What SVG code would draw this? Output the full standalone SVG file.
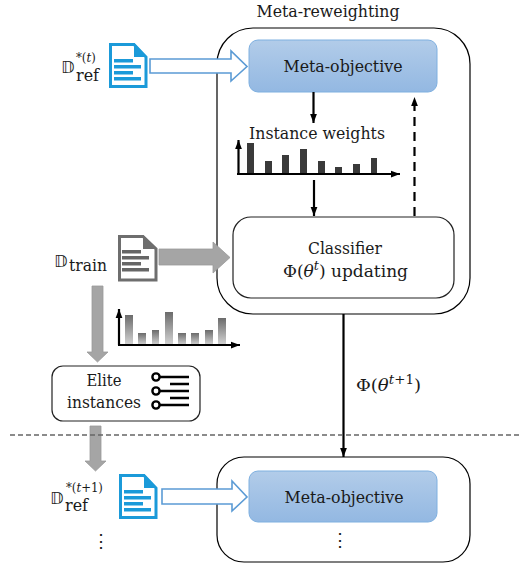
<svg xmlns="http://www.w3.org/2000/svg" xmlns:xlink="http://www.w3.org/1999/xlink" width="526" height="565" viewBox="0 0 526 565">
<style>
text{font-family:"DejaVu Serif Condensed","DejaVu Serif","Liberation Serif",serif;font-size:17.500px;fill:#1a1a1a}
.m{text-anchor:middle}
.ds{font-family:"DejaVu Sans",sans-serif;font-size:16.500px;fill:#222}
.sm{font-size:13px}
.i{font-style:italic}
.outer{fill:#fff;stroke:#000;stroke-width:1.2}
.box{fill:#fff;stroke:#222;stroke-width:1.2}
.meta{fill:url(#blue);stroke:#7fb0e0;stroke-width:1}
.blk{stroke:#000;stroke-width:2.2;fill:none}
.bar1{fill:#3a3a3a}
.bar2{fill:url(#grayg)}
.hollow{fill:#fff;stroke:#5b9bd5;stroke-width:1.6}
.solidg{fill:#a5a5a5;stroke:#999;stroke-width:.8}
</style>
<defs>
<linearGradient id="blue" x1="0" y1="0" x2="0" y2="1"><stop offset="0" stop-color="#b2cce9"/><stop offset="1" stop-color="#93b8e2"/></linearGradient>
<linearGradient id="grayg" x1="0" y1="0" x2="0" y2="1"><stop offset="0" stop-color="#6b6b6b"/><stop offset="1" stop-color="#d4d4d4"/></linearGradient>
<marker id="ah" markerWidth="9" markerHeight="8" refX="8" refY="3" orient="auto" markerUnits="userSpaceOnUse" viewBox="0 0 8 6"><path d="M0 0L8 3L0 6Z" fill="#000"/></marker>
<g id="docb">
<path d="M1.500 1.500H25L37 14V43.500H1.500Z" fill="#fff" stroke="#1b9ad9" stroke-width="3"/>
<path d="M25 0L38 14H25Z" fill="#1b9ad9"/>
<path d="M5 16h19v3.500h-19zM5 22h27v3.500h-27zM5 28h19v3.500h-19zM5 34h27v3.500h-27z" fill="#1b9ad9"/>
</g>
</defs>
<rect width="526" height="565" fill="#fff"/>

<g id="outer-top"><rect class="outer" x="217" y="28" width="253" height="286" rx="36"/></g>
<g id="outer-bottom"><rect class="outer" x="217" y="457" width="253" height="105" rx="27"/></g>

<g id="title"><text class="m" x="328" y="17" textLength="143" lengthAdjust="spacingAndGlyphs">Meta-reweighting</text></g>

<g id="meta-objective-top"><rect class="meta" x="249" y="40" width="188" height="52" rx="9"/><text class="m" x="343" y="72" textLength="119" lengthAdjust="spacingAndGlyphs">Meta-objective</text></g>
<g id="classifier"><rect class="box" x="233" y="217" width="221" height="81" rx="18"/>
<text class="m" x="345" y="254" textLength="74" lengthAdjust="spacingAndGlyphs">Classifier</text>
<text x="283" y="277" textLength="125" lengthAdjust="spacingAndGlyphs">Φ(<tspan class="i">θ</tspan><tspan class="i sm" dy="-7">t</tspan><tspan dy="7">) updating</tspan></text></g>
<g id="meta-objective-bottom"><rect class="meta" x="249" y="471" width="188" height="51" rx="9"/><text class="m" x="344" y="503" textLength="119" lengthAdjust="spacingAndGlyphs">Meta-objective</text></g>

<g id="elite"><rect class="box" x="52" y="366" width="148" height="55" rx="11"/>
<text class="m" x="104" y="386" textLength="35" lengthAdjust="spacingAndGlyphs">Elite</text>
<text class="m" x="104" y="408" textLength="74" lengthAdjust="spacingAndGlyphs">instances</text>
<g fill="#fff" stroke="#000" stroke-width="2.400"><circle cx="156" cy="377" r="3.600"/><circle cx="156" cy="391" r="3.600"/><circle cx="156" cy="405" r="3.600"/></g>
<path d="M160 377H189M170 384H189M160 391H189M170 398H189M160 405H189" stroke="#000" stroke-width="2.400" fill="none"/></g>

<g id="ref-top"><use xlink:href="#docb" href="#docb" x="109" y="43"/>
<text class="ds" x="61" y="73">𝔻</text><text class="sm" x="76" y="62">*(<tspan class="i">t</tspan>)</text><text x="76" y="81" textLength="23" lengthAdjust="spacingAndGlyphs">ref</text></g>
<g id="train"><path d="M119.500 236.500H143L156 249V280H119.500Z" fill="#fff" stroke="#6e6e6e" stroke-width="3"/><path d="M143 235L157 249H143Z" fill="#6e6e6e"/>
<path d="M122 250h19v3.500h-19zM122 256h27v3.500h-27zM122 262h19v3.500h-19zM122 268h27v3.500h-27z" fill="#666"/>
<text class="ds" x="54" y="267">𝔻</text><text x="69" y="271" textLength="38" lengthAdjust="spacingAndGlyphs">train</text></g>
<g id="ref-bottom"><use xlink:href="#docb" href="#docb" x="119" y="474"/>
<text class="ds" x="50" y="504">𝔻</text><text class="sm" x="66" y="492">*(<tspan class="i">t</tspan>+1)</text><text x="65" y="511" textLength="23" lengthAdjust="spacingAndGlyphs">ref</text></g>

<g id="chart-weights">
<g class="bar1"><rect x="247" y="143" width="7" height="31"/><rect x="265" y="161" width="7" height="13"/><rect x="282" y="155" width="7" height="19"/><rect x="300" y="149" width="7" height="25"/><rect x="318" y="161" width="7" height="13"/><rect x="335" y="167" width="7" height="7"/><rect x="353" y="164" width="7" height="10"/><rect x="371" y="158" width="6" height="16"/></g>
<path class="blk" d="M238.500 174V140" marker-end="url(#ah)"/><path class="blk" d="M237 174H400" marker-end="url(#ah)"/>
<text x="249" y="139" textLength="136" lengthAdjust="spacingAndGlyphs">Instance weights</text></g>

<g id="chart-train">
<g class="bar2"><rect x="125" y="315" width="8" height="30"/><rect x="138" y="333" width="8" height="12"/><rect x="152" y="330" width="7" height="15"/><rect x="165" y="312" width="8" height="33"/><rect x="178" y="333" width="8" height="12"/><rect x="191" y="333" width="8" height="12"/><rect x="205" y="330" width="8" height="15"/><rect x="218" y="318" width="8" height="27"/></g>
<path class="blk" d="M119 345V309" marker-end="url(#ah)"/><path class="blk" d="M118 345H240" marker-end="url(#ah)"/></g>

<g id="labels">
<text x="356" y="391" textLength="65" lengthAdjust="spacingAndGlyphs">Φ(<tspan class="i">θ</tspan><tspan class="sm" dy="-7"><tspan class="i">t</tspan>+1</tspan><tspan dy="7">)</tspan></text>
<text class="m" x="340" y="546">⋮</text><text class="m" x="101" y="547">⋮</text>
</g>

<g id="connectors">
<path class="blk" d="M313.500 92V123" marker-end="url(#ah)"/>
<path class="blk" d="M314 180V216" marker-end="url(#ah)"/>
<path class="blk" d="M414.500 216V97" stroke-dasharray="9 6" marker-end="url(#ah)"/>
<path class="blk" d="M343.500 314V457" marker-end="url(#ah)"/>
<path class="hollow" d="M150 59H231V51L247 66.500L231 81V73H150Z"/>
<path class="hollow" d="M162 489H232V481L247 497L232 511V504H162Z"/>
<path class="solidg" d="M159 249H213V242L230 257.500L213 273V265H159Z"/>
<path class="solidg" d="M92 286H103V352H108L97.500 362L87 352H92Z"/>
<path class="solidg" d="M90 426H101V461H106L95.500 471L85 461H90Z"/>
<path d="M10 435H522" stroke="#666" stroke-width="1.500" stroke-dasharray="5 3" fill="none"/>
</g>
</svg>
